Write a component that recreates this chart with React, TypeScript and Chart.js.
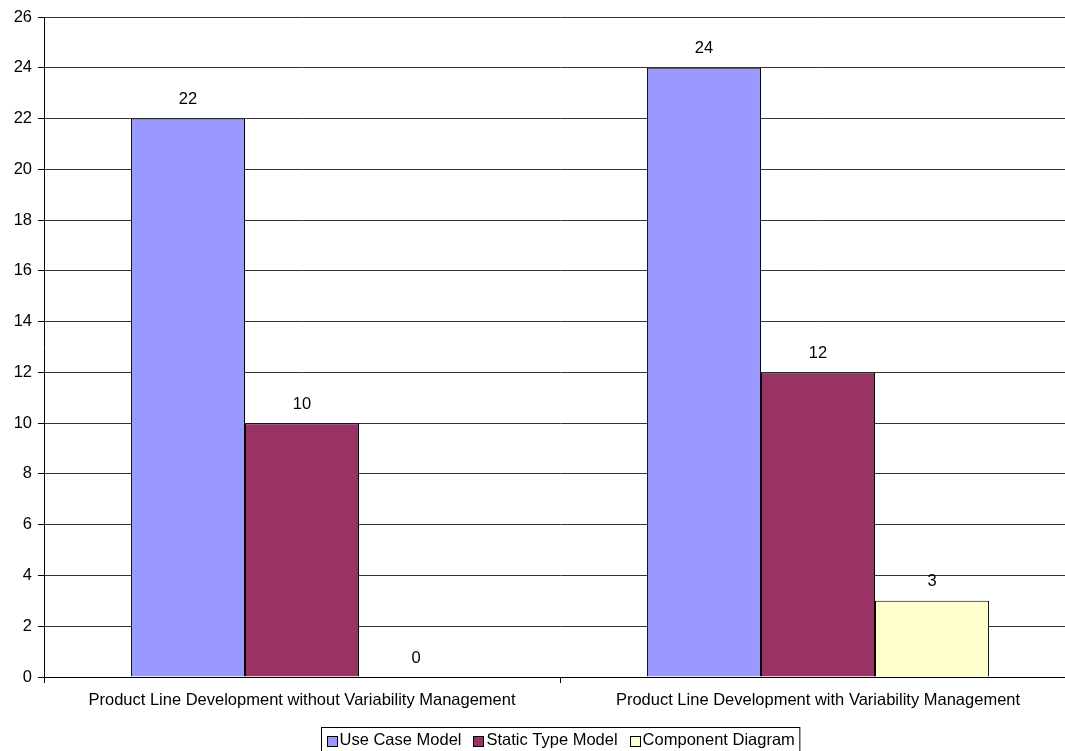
import React, { useEffect, useRef } from "react";
import { Chart, registerables } from "chart.js";

Chart.register(...registerables);

const categories = [
  "Product Line Development without Variability Management",
  "Product Line Development with Variability Management",
];
const seriesNames = ["Use Case Model", "Static Type Model", "Component Diagram"];
const useCaseModel = [22, 24];
const staticTypeModel = [10, 12];
const componentDiagram = [0, 3];
const seriesColors = ["#9999FF", "#993366", "#FFFFCC"];
const yMin = 0;
const yMax = 26;
const yStep = 2;

const FONT = "'Liberation Sans', Arial, sans-serif";
const FS = 16.5;

const labelsAndLegend = {
  id: "labelsAndLegend",
  afterDatasetsDraw(chart: any) {
    const ctx = chart.ctx;
    ctx.save();
    ctx.font = `${FS}px ${FONT}`;
    ctx.fillStyle = "#000";
    ctx.textAlign = "center";
    ctx.textBaseline = "middle";
    chart.data.datasets.forEach((ds: any, i: number) => {
      const meta = chart.getDatasetMeta(i);
      meta.data.forEach((bar: any, j: number) => {
        const v = ds.data[j];
        ctx.fillText(String(v), bar.x, bar.y - 19);
      });
    });
    ctx.restore();
  },
  afterDraw(chart: any) {
    const ctx = chart.ctx;
    ctx.save();
    ctx.font = `${FS}px ${FONT}`;
    const box = 10;
    const gapBox = 3;
    const gapItem = 12;
    const pad = 5;
    const widths = seriesNames.map((n) => ctx.measureText(n).width);
    const content =
      widths.reduce((a, b) => a + b, 0) +
      seriesNames.length * (box + gapBox) +
      (seriesNames.length - 1) * gapItem;
    const total = content + pad * 2;
    const cx = 560;
    const left = Math.round(cx - total / 2) + 0.5;
    const top = 727.5;
    const h = 24;
    ctx.strokeStyle = "#000";
    ctx.lineWidth = 1;
    ctx.fillStyle = "#fff";
    ctx.fillRect(left, top, total, h);
    ctx.strokeRect(left, top, total, h);
    let x = left + pad;
    const cy = top + h / 2 + 1;
    seriesNames.forEach((n, i) => {
      ctx.fillStyle = seriesColors[i];
      ctx.fillRect(Math.round(x) + 0.5, Math.round(cy - box / 2) + 0.5, box, box);
      ctx.strokeStyle = "#000";
      ctx.strokeRect(Math.round(x) + 0.5, Math.round(cy - box / 2) + 0.5, box, box);
      x += box + gapBox;
      ctx.fillStyle = "#000";
      ctx.textAlign = "left";
      ctx.textBaseline = "middle";
      ctx.fillText(n, x, cy);
      x += widths[i] + gapItem;
    });
    ctx.restore();
  },
};

export default function App() {
  const ref = useRef<HTMLCanvasElement | null>(null);
  useEffect(() => {
    if (!ref.current) return;
    const chart = new Chart(ref.current, {
      type: "bar",
      data: {
        labels: categories,
        datasets: [
          { label: seriesNames[0], data: useCaseModel, backgroundColor: seriesColors[0] },
          { label: seriesNames[1], data: staticTypeModel, backgroundColor: seriesColors[1] },
          { label: seriesNames[2], data: componentDiagram, backgroundColor: seriesColors[2] },
        ].map((d) => ({
          ...d,
          borderColor: "#000",
          borderWidth: 1,
          categoryPercentage: 0.663,
          barPercentage: 1,
        })),
      },
      options: {
        responsive: false,
        animation: false,
        layout: { padding: { top: 17, left: 0, right: 0, bottom: 0 } },
        plugins: {
          legend: { display: false },
          tooltip: { enabled: false },
        },
        scales: {
          x: {
            offset: true,
            grid: {
              offset: true,
              drawOnChartArea: false,
              drawTicks: true,
              tickLength: 6,
              color: "#000",
            },
            border: { color: "#000", width: 1 },
            ticks: {
              font: { family: FONT, size: FS },
              color: "#000",
              padding: 8,
              maxRotation: 0,
            },
            afterFit(scale: any) {
              scale.height = 74;
            },
          },
          y: {
            min: yMin,
            max: yMax,
            ticks: {
              stepSize: yStep,
              font: { family: FONT, size: FS },
              color: "#000",
              padding: 6,
            },
            grid: { color: "#333", tickLength: 6, tickColor: "#000" },
            border: { color: "#000", width: 1 },
            afterFit(scale: any) {
              scale.width = 44;
            },
          },
        },
      },
      plugins: [labelsAndLegend],
    } as any);
    return () => chart.destroy();
  }, []);
  return (
    <div
      style={{
        position: "fixed",
        left: 0,
        top: 0,
        width: 1065,
        height: 751,
        overflow: "hidden",
        background: "#fff",
      }}
    >
      <canvas ref={ref} width={1076} height={751} style={{ display: "block" }} />
    </div>
  );
}
